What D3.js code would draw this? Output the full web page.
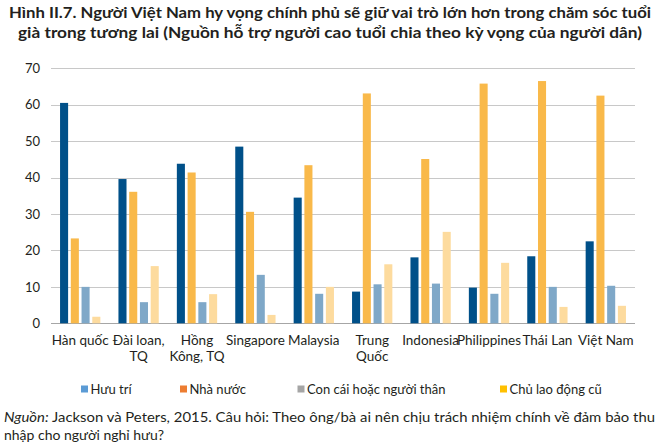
<!DOCTYPE html>
<html><head><meta charset="utf-8">
<script src="https://cdn.jsdelivr.net/npm/d3@7"></script>
<style>
body{margin:0;background:#fff;}
svg{display:block;}
text{font-family:Lato,"Open Sans",sans-serif;fill:#231f20;}
</style></head>
<body><svg id="c" width="660" height="446"></svg>
<script>
const categories = [["Hàn quốc"],["Đài loan,","TQ"],["Hồng","Kông, TQ"],["Singapore"],["Malaysia"],["Trung","Quốc"],["Indonesia"],["Philippines"],["Thái Lan"],["Việt Nam"]];
const seriesNames = ["Hưu trí","Nhà nước","Con cái hoặc người thân","Chủ lao động cũ"];
const huuTri   = [60.5, 39.6, 43.8, 48.5, 34.5, 8.7, 18.1, 9.8, 18.4, 22.5];
const nhaNuoc  = [23.3, 36.1, 41.4, 30.6, 43.4, 63.1, 45.1, 65.8, 66.5, 62.5];
const conCai   = [10.0, 5.8, 5.8, 13.3, 8.1, 10.7, 10.9, 8.1, 10.0, 10.3];
const chuLaoDong = [1.8, 15.7, 8.0, 2.3, 10.0, 16.2, 25.1, 16.6, 4.5, 4.8];
const yTicks = [0,10,20,30,40,50,60,70];
const titleLines = ["Hình II.7. Người Việt Nam hy vọng chính phủ sẽ giữ vai trò lớn hơn trong chăm sóc tuổi","già trong tương lai (Nguồn hỗ trợ người cao tuổi chia theo kỳ vọng của người dân)"];

const series = [huuTri, nhaNuoc, conCai, chuLaoDong];
const barColors = ["#005089","#f9b94a","#7fa8c8","#fddb9e"];
const legendColors = ["#5b9bd5","#ed7d31","#a5a5a5","#ffc000"];

const svg = d3.select("#c");
const L = 51, R = 635, T = 68.3, B = 323.3;

// title
svg.append("g").selectAll("text").data(titleLines).join("text")
  .attr("x",330).attr("y",(d,i)=> i===0?18:37.5)
  .attr("text-anchor","middle").attr("font-weight","bold").attr("font-size",16)
  .attr("textLength",(d,i)=> i===0?642:624).attr("lengthAdjust","spacingAndGlyphs")
  .text(d=>d);

const x0 = d3.scaleBand().domain(d3.range(categories.length)).range([L,R]).paddingInner(0.31).paddingOuter(0.155);
const x1 = d3.scaleBand().domain(d3.range(4)).range([0,x0.bandwidth()]).paddingInner(0.25);
const y = d3.scaleLinear().domain([0,70]).range([B,T]);

// grid
svg.append("g").selectAll("line").data(yTicks).join("line")
  .attr("x1",L).attr("x2",R).attr("y1",d=>Math.round(y(d))+0.5).attr("y2",d=>Math.round(y(d))+0.5)
  .attr("stroke",d=>d===0?"#a6a6a6":"#c8c8c8").attr("stroke-width",1.2);

// y axis labels
const yAxis = d3.axisLeft(y).tickValues(yTicks).tickSize(0).tickPadding(0);
const ya = svg.append("g").attr("transform",`translate(40,0)`).call(yAxis);
ya.select(".domain").remove();
ya.selectAll("text").attr("font-size",13).attr("fill","#231f20").style("font-family","Lato, sans-serif");

// bars
const groups = svg.append("g").selectAll("g").data(categories).join("g")
  .attr("transform",(d,i)=>`translate(${x0(i)},0)`);
groups.selectAll("rect").data((d,i)=>series.map((s,k)=>({k,v:s[i]}))).join("rect")
  .attr("x",d=>x1(d.k)).attr("width",x1.bandwidth())
  .attr("y",d=>y(d.v)).attr("height",d=>B-y(d.v))
  .attr("fill",d=>barColors[d.k]);

// category labels
const xl = svg.append("g").selectAll("text").data(categories).join("text")
  .attr("text-anchor","middle").attr("font-size",13.5)
  .attr("transform",(d,i)=>`translate(${x0(i)+x0.bandwidth()/2},345)`);
xl.selectAll("tspan").data(d=>d).join("tspan").attr("x",0).attr("dy",(d,j)=>j===0?0:16).text(d=>d);

// legend
const legX = [81,180,297.5,500];
const lg = svg.append("g").selectAll("g").data(seriesNames).join("g")
  .attr("transform",(d,i)=>`translate(${legX[i]},389)`);
lg.append("rect").attr("x",0).attr("y",-3.5).attr("width",7).attr("height",7).attr("fill",(d,i)=>legendColors[i]);
lg.append("text").attr("x",9.5).attr("y",4.5).attr("font-size",13).text(d=>d);

// source
const src = svg.append("text").attr("x",4).attr("y",422).attr("font-size",14)
  .attr("textLength",651).attr("lengthAdjust","spacingAndGlyphs");
src.append("tspan").attr("font-style","italic").text("Nguồn:");
src.append("tspan").text(" Jackson và Peters, 2015. Câu hỏi: Theo ông/bà ai nên chịu trách nhiệm chính về đảm bảo thu");
svg.append("text").attr("x",4).attr("y",440).attr("font-size",14).text("nhập cho người nghỉ hưu?");
</script></body></html>
